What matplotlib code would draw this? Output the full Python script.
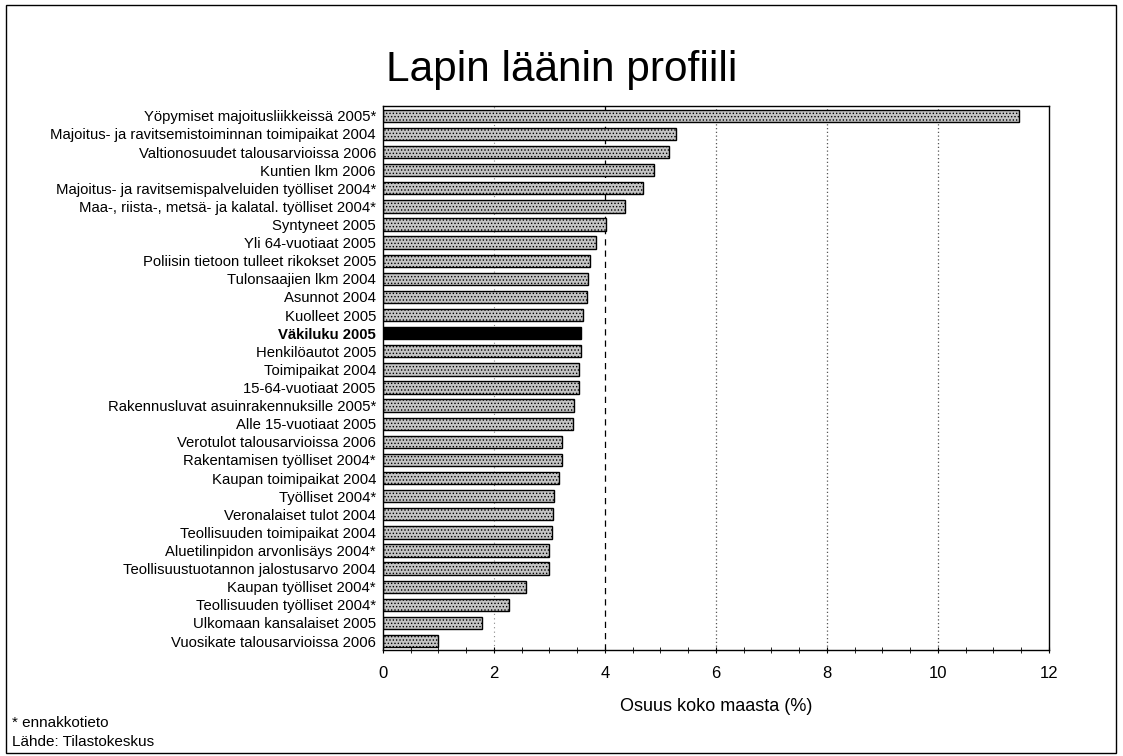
import matplotlib
matplotlib.use("Agg")
import matplotlib.pyplot as plt
from matplotlib.patches import Rectangle

plt.rcParams['font.family'] = ['Liberation Sans', 'DejaVu Sans']
plt.rcParams['hatch.color'] = '#7a7a7a'
plt.rcParams['hatch.linewidth'] = 0.6

categories = [
    "Yöpymiset majoitusliikkeissä 2005*",
    "Majoitus- ja ravitsemistoiminnan toimipaikat 2004",
    "Valtionosuudet talousarvioissa 2006",
    "Kuntien lkm 2006",
    "Majoitus- ja ravitsemispalveluiden työlliset 2004*",
    "Maa-, riista-, metsä- ja kalatal. työlliset 2004*",
    "Syntyneet 2005",
    "Yli 64-vuotiaat 2005",
    "Poliisin tietoon tulleet rikokset 2005",
    "Tulonsaajien lkm 2004",
    "Asunnot 2004",
    "Kuolleet 2005",
    "Väkiluku 2005",
    "Henkilöautot 2005",
    "Toimipaikat 2004",
    "15-64-vuotiaat 2005",
    "Rakennusluvat asuinrakennuksille 2005*",
    "Alle 15-vuotiaat 2005",
    "Verotulot talousarvioissa 2006",
    "Rakentamisen työlliset 2004*",
    "Kaupan toimipaikat 2004",
    "Työlliset 2004*",
    "Veronalaiset tulot 2004",
    "Teollisuuden toimipaikat 2004",
    "Aluetilinpidon arvonlisäys 2004*",
    "Teollisuustuotannon jalostusarvo 2004",
    "Kaupan työlliset 2004*",
    "Teollisuuden työlliset 2004*",
    "Ulkomaan kansalaiset 2005",
    "Vuosikate talousarvioissa 2006",
]
values = [11.46, 5.28, 5.15, 4.88, 4.68, 4.36, 4.02, 3.84, 3.73, 3.70,
          3.68, 3.61, 3.57, 3.56, 3.53, 3.53, 3.45, 3.42, 3.23, 3.22,
          3.18, 3.09, 3.07, 3.04, 3.00, 2.99, 2.58, 2.27, 1.78, 0.99]
highlight = "Väkiluku 2005"
xticks = [0, 2, 4, 6, 8, 10, 12]

fig = plt.figure(figsize=(11.23, 7.56), dpi=100)
fig.patches.append(Rectangle((0.005, 0.004), 0.989, 0.990, transform=fig.transFigure,
                             fill=False, edgecolor='black', linewidth=1.0))
ax = fig.add_axes([0.341, 0.140, 0.593, 0.720])

y = list(range(len(categories)))
colors = ['black' if c == highlight else '#c4c4c4' for c in categories]
hatches = ['' if c == highlight else '.....' for c in categories]
bars = ax.barh(y, values, height=0.68, color=colors, edgecolor='black', linewidth=1.0, zorder=2)
for b, h in zip(bars, hatches):
    b.set_hatch(h)

ax.set_xlim(0, 12)
ax.set_ylim(len(categories) - 0.5, -0.55)
ax.set_xticks(xticks)
ax.set_xticks([i * 0.5 for i in range(25)], minor=True)
ax.tick_params(axis='x', which='both', direction='inout', length=5, labelsize=12, pad=9)
ax.tick_params(axis='y', length=0, labelsize=10.7, pad=5)
ax.set_yticks(y)
ax.set_yticklabels(categories)
for lbl in ax.get_yticklabels():
    if lbl.get_text() == highlight:
        lbl.set_fontweight('bold')

# gridlines
ax.axvline(2, color='#888888', linestyle=(0, (1, 3)), linewidth=0.8, zorder=0)
ax.axvline(4, color='black', linestyle=(0, (5, 4)), linewidth=0.9, zorder=0)
for gx in [6, 8, 10]:
    ax.axvline(gx, color='#555555', linestyle=(0, (1, 2)), linewidth=0.9, zorder=0)

for s in ax.spines.values():
    s.set_linewidth(1.0)

ax.set_xlabel("Osuus koko maasta (%)", fontsize=13, labelpad=12)

fig.text(0.5, 0.908, "Lapin läänin profiili", ha='center', va='center', fontsize=30.5)
fig.text(0.011, 0.043, "* ennakkotieto", ha='left', va='center', fontsize=11)
fig.text(0.011, 0.019, "Lähde: Tilastokeskus", ha='left', va='center', fontsize=11)

fig.savefig("out.png", dpi=100)
